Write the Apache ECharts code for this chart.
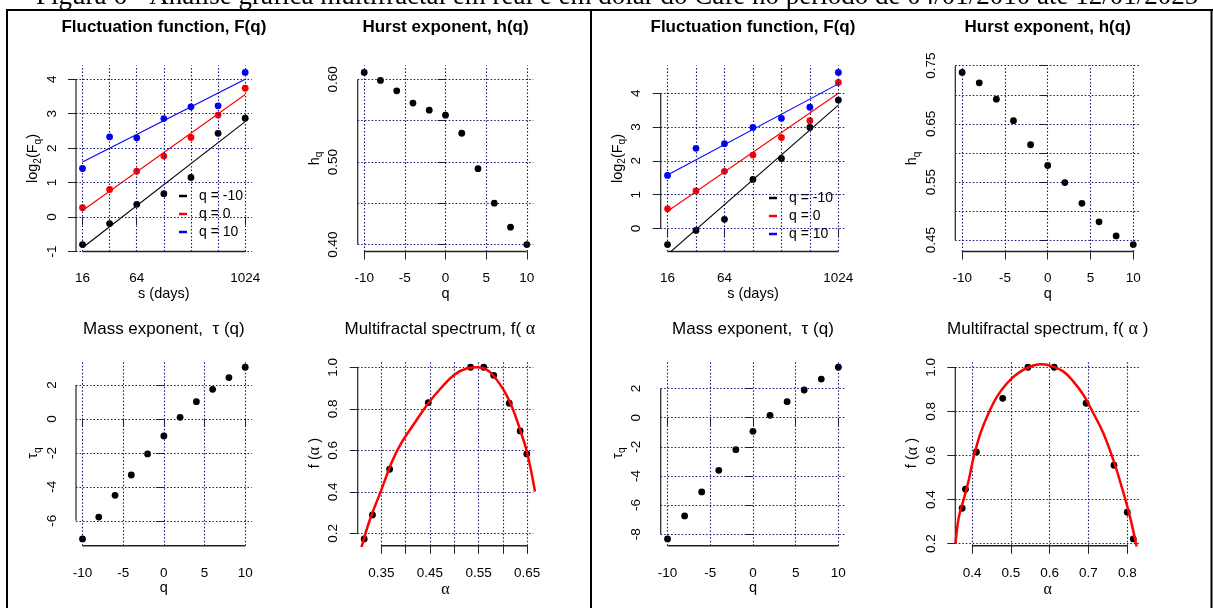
<!DOCTYPE html>
<html><head><meta charset="utf-8">
<script src="https://cdn.jsdelivr.net/npm/echarts@6/dist/echarts.min.js"></script>
<style>html,body{margin:0;padding:0;background:#fff}#c{width:1213px;height:608px}</style>
</head><body><div id="c"></div>
<script>
// ---------------- DATA ----------------
const headerText = 'Figura 6 - Análise gráfica multifractal em real e em dólar do Café no período de 04/01/2010 até 12/01/2025';
const scales = [16, 32, 64, 128, 256, 512, 1024];
const qValues = [-10, -8, -6, -4, -2, 0, 2, 4, 6, 8, 10];
const legendNames = ['q = -10', 'q = 0', 'q = 10'];
const fitScaleEnds = [16, 1024];

// Real (left block)
const realLogFqNeg10 = [-0.80, -0.19, 0.37, 0.68, 1.15, 2.43, 2.87];
const realLogFq0     = [0.27, 0.80, 1.33, 1.77, 2.31, 2.96, 3.74];
const realLogFq10    = [1.41, 2.33, 2.30, 2.86, 3.20, 3.23, 4.20];
const realFitNeg10 = [-0.89, 2.77];
const realFit0     = [0.19, 3.56];
const realFit10    = [1.60, 4.00];
const realHq   = [0.6085, 0.5988, 0.5862, 0.5713, 0.5628, 0.5567, 0.5348, 0.4919, 0.4502, 0.4211, 0.4000];
const realTauq = [-7.07, -5.78, -4.50, -3.30, -2.06, -1.00, 0.10, 1.02, 1.75, 2.44, 3.05];
const realAlpha  = [0.3147, 0.3317, 0.3670, 0.4465, 0.5335, 0.5606, 0.5810, 0.6130, 0.6354, 0.6491];
const realFalpha = [0.1727, 0.2884, 0.5084, 0.8297, 1.0, 1.0, 0.9614, 0.8265, 0.6932, 0.5823];
const realCurveAlpha = [0.3092, 0.3262, 0.3500, 0.3704, 0.3908, 0.4180, 0.4465, 0.4723, 0.4995, 0.5267, 0.5471, 0.5641, 0.5810, 0.6014, 0.6185, 0.6354, 0.6500, 0.6660];
const realCurveF     = [0.1325, 0.264, 0.409, 0.537, 0.634, 0.730, 0.827, 0.899, 0.963, 0.995, 1.000, 0.992, 0.958, 0.891, 0.810, 0.698, 0.586, 0.401];

// Dolar (right block)
const dolarLogFqNeg10 = [-0.48, -0.06, 0.27, 1.45, 2.07, 2.99, 3.80];
const dolarLogFq0     = [0.58, 1.11, 1.69, 2.17, 2.69, 3.19, 4.32];
const dolarLogFq10    = [1.57, 2.37, 2.51, 2.99, 3.26, 3.59, 4.62];
const dolarFitNeg10 = [-0.77, 3.65];
const dolarFit0     = [0.51, 4.00];
const dolarFit10    = [1.58, 4.28];
const dolarHq   = [0.7385, 0.7206, 0.6924, 0.6555, 0.6141, 0.5784, 0.5490, 0.5133, 0.4816, 0.4574, 0.4424];
const dolarTauq = [-8.33, -6.75, -5.10, -3.62, -2.20, -0.94, 0.16, 1.10, 1.90, 2.65, 3.46];
const dolarAlpha  = [0.3743, 0.3829, 0.4111, 0.4788, 0.5439, 0.6116, 0.6938, 0.7657, 0.8000, 0.8154];
const dolarFalpha = [0.3603, 0.4465, 0.6159, 0.8593, 1.0, 1.0, 0.8367, 0.5554, 0.3422, 0.2212];
const dolarCurveAlpha = [0.3572, 0.3657, 0.3786, 0.3914, 0.4043, 0.4214, 0.4403, 0.4642, 0.4899, 0.5156, 0.5456, 0.5756, 0.6013, 0.6355, 0.6612, 0.6869, 0.7126, 0.7383, 0.7640, 0.7854, 0.8069, 0.8240];
const dolarCurveF     = [0.200, 0.3195, 0.4027, 0.4888, 0.5947, 0.7005, 0.7837, 0.8669, 0.9274, 0.9698, 1.000, 1.0136, 1.0076, 0.9803, 0.935, 0.8745, 0.7913, 0.7005, 0.5796, 0.4586, 0.3225, 0.1864];

// Tick values / labels
const fluctXTicks = [16, 64, 1024];
const realFluctYTicks = [-1, 0, 1, 2, 3, 4];
const dolarFluctYTicks = [0, 1, 2, 3, 4];
const qTicks = [-10, -5, 0, 5, 10];
const realHqTicks = [0.40, 0.45, 0.50, 0.55, 0.60];
const realHqLabels = [0.40, 0.50, 0.60];
const dolarHqTicks = [0.45, 0.50, 0.55, 0.60, 0.65, 0.70, 0.75];
const dolarHqLabels = [0.45, 0.55, 0.65, 0.75];
const realTauTicks = [-6, -4, -2, 0, 2];
const dolarTauTicks = [-8, -6, -4, -2, 0, 2];
const realAlphaTicks = [0.35, 0.40, 0.45, 0.50, 0.55, 0.60, 0.65];
const realAlphaLabels = [0.35, 0.45, 0.55, 0.65];
const dolarAlphaTicks = [0.4, 0.5, 0.6, 0.7, 0.8];
const fTicks = [0.2, 0.4, 0.6, 0.8, 1.0];

// ---------------- STYLE / LAYOUT ----------------
const FONT = "'Liberation Sans', Arial, Helvetica, sans-serif";
const SERIF = "'Liberation Serif', 'Times New Roman', serif";
const AX = '#222';
const GRIDC = '#14147a';
const TOP = [65.5, 186];
const BOT = [360.4, 185.4];
const COLL = [[76, 175.7], [357.7, 175.6], [660.7, 184.5], [955.3, 184.8]];

function pad(arr) {
  const lo = Math.min(...arr), hi = Math.max(...arr), d = (hi - lo) * 0.04;
  return [lo - d, hi + d];
}
function logPad(arr) {
  const e = pad(arr.map(v => Math.log2(v)));
  return [Math.pow(2, e[0]), Math.pow(2, e[1])];
}
const f0 = v => String(v);
const f1 = v => Number(v).toFixed(1);
const f2 = v => Number(v).toFixed(2);

const nameRich = {
  n: { fontSize: 14.5, fontFamily: FONT, color: '#000', lineHeight: 20 },
  s: { fontSize: 10, fontFamily: FONT, color: '#000', lineHeight: 10, verticalAlign: 'bottom' },
  g: { fontSize: 16, fontFamily: SERIF, color: '#000', lineHeight: 20 }
};
const NAME_LOGF = '{n|log}{s|2}{n|(F}{s|q}{n|)}';
const NAME_H = '{n|h}{s|q}';
const NAME_TAU = '{n|τ}{s|q}';
const NAME_F = '{n|f (}{g|α}{n| )}';
const NAME_A = '{g|α}';

const grids = [], xAxes = [], yAxes = [], series = [];

function panel(i, box, o) {
  grids.push({ left: box[0], top: box[1], width: box[2], height: box[3], containLabel: false, outerBoundsMode: 'none' });
  xAxes.push({
    gridIndex: i, type: o.xType || 'value', logBase: 2, min: o.xExt[0], max: o.xExt[1],
    axisLine: { show: false }, splitLine: { show: false },
    axisTick: { show: true, length: 8, customValues: o.xTicks, lineStyle: { color: AX, width: 1 } },
    axisLabel: { customValues: o.xLabels, formatter: o.xFmt, margin: 20, fontSize: 13.5, color: '#000', fontFamily: FONT },
    name: o.xName, nameLocation: 'middle', nameGap: 34,
    nameTextStyle: { fontSize: 14.5, color: '#000', fontFamily: FONT, rich: nameRich }
  });
  yAxes.push({
    gridIndex: i, type: 'value', min: o.yExt[0], max: o.yExt[1],
    axisLine: { show: false }, splitLine: { show: false },
    axisTick: { show: true, length: 8, customValues: o.yTicks, lineStyle: { color: AX, width: 1 } },
    axisLabel: { customValues: o.yLabels, formatter: o.yFmt, rotate: 90, margin: 17, fontSize: 13.5, color: '#000', fontFamily: FONT },
    name: o.yName, nameLocation: 'middle', nameRotate: 90, nameGap: 33,
    nameTextStyle: { fontSize: 14.5, color: '#000', fontFamily: FONT, rich: nameRich }
  });
  const xt = o.xTicks, yt = o.yTicks;
  // R-style axis lines (from first to last tick) + dotted grid
  series.push({
    type: 'line', xAxisIndex: i, yAxisIndex: i, silent: true, clip: false, symbol: 'none', z: 2,
    data: [[xt[0], o.yExt[0]], [xt[xt.length - 1], o.yExt[0]]],
    lineStyle: { color: AX, width: 1.4 },
    markLine: {
      silent: true, symbol: ['none', 'none'], label: { show: false }, animation: false,
      lineStyle: { type: [1.5, 2], color: GRIDC, width: 1.1, opacity: 1 },
      emphasis: { disabled: true },
      data: o.xGrid.map(v => ({ xAxis: v })).concat(o.yGrid.map(v => ({ yAxis: v })))
    }
  });
  series.push({
    type: 'line', xAxisIndex: i, yAxisIndex: i, silent: true, clip: false, symbol: 'none', z: 2,
    data: [[o.xExt[0], yt[0]], [o.xExt[0], yt[yt.length - 1]]],
    lineStyle: { color: AX, width: 1.2 }
  });
}
function pts(i, xs, ys, color) {
  series.push({ type: 'scatter', xAxisIndex: i, yAxisIndex: i, silent: true, z: 3,
    data: xs.map((x, k) => [x, ys[k]]), symbol: 'circle', symbolSize: 6.8,
    itemStyle: { color, opacity: 1 }, emphasis: { disabled: true } });
}
function fit(i, name, ends, color) {
  series.push({ type: 'line', name, xAxisIndex: i, yAxisIndex: i, silent: true, z: 4, color,
    data: fitScaleEnds.map((s, k) => [s, ends[k]]), symbol: 'none', itemStyle: { color },
    lineStyle: { color, width: 1.1 } });
}
function curve(i, xs, ys) {
  series.push({ type: 'line', xAxisIndex: i, yAxisIndex: i, silent: true, z: 5, smooth: 0.4,
    data: xs.map((x, k) => [x, ys[k]]), symbol: 'none', lineStyle: { color: '#ff0000', width: 2.5 } });
}

// Panel 0: real fluctuation
panel(0, [COLL[0][0], TOP[0], COLL[0][1], TOP[1]], {
  xType: 'log', xExt: logPad(scales), yExt: pad(realLogFqNeg10.concat(realLogFq0, realLogFq10)),
  xTicks: fluctXTicks, xLabels: fluctXTicks, xGrid: scales, yTicks: realFluctYTicks, yLabels: realFluctYTicks, yGrid: realFluctYTicks,
  xFmt: f0, yFmt: f0, xName: 's (days)', yName: NAME_LOGF });
pts(0, scales, realLogFqNeg10, '#000'); pts(0, scales, realLogFq0, '#ff0000'); pts(0, scales, realLogFq10, '#0000ff');
fit(0, legendNames[0], realFitNeg10, '#000'); fit(0, legendNames[1], realFit0, '#ff0000'); fit(0, legendNames[2], realFit10, '#0000ff');

// Panel 1: real hurst
panel(1, [COLL[1][0], TOP[0], COLL[1][1], TOP[1]], {
  xExt: pad(qValues), yExt: pad(realHq),
  xTicks: qTicks, xLabels: qTicks, xGrid: qTicks, yTicks: realHqTicks, yLabels: realHqLabels, yGrid: realHqTicks,
  xFmt: f0, yFmt: f2, xName: 'q', yName: NAME_H });
pts(1, qValues, realHq, '#000');

// Panel 2: dolar fluctuation
panel(2, [COLL[2][0], TOP[0], COLL[2][1], TOP[1]], {
  xType: 'log', xExt: logPad(scales), yExt: pad(dolarLogFqNeg10.concat(dolarLogFq0, dolarLogFq10)),
  xTicks: fluctXTicks, xLabels: fluctXTicks, xGrid: scales, yTicks: dolarFluctYTicks, yLabels: dolarFluctYTicks, yGrid: dolarFluctYTicks,
  xFmt: f0, yFmt: f0, xName: 's (days)', yName: NAME_LOGF });
pts(2, scales, dolarLogFqNeg10, '#000'); pts(2, scales, dolarLogFq0, '#ff0000'); pts(2, scales, dolarLogFq10, '#0000ff');
fit(2, legendNames[0], dolarFitNeg10, '#000'); fit(2, legendNames[1], dolarFit0, '#ff0000'); fit(2, legendNames[2], dolarFit10, '#0000ff');

// Panel 3: dolar hurst
panel(3, [COLL[3][0], TOP[0], COLL[3][1], TOP[1]], {
  xExt: pad(qValues), yExt: pad(dolarHq),
  xTicks: qTicks, xLabels: qTicks, xGrid: qTicks, yTicks: dolarHqTicks, yLabels: dolarHqLabels, yGrid: dolarHqTicks,
  xFmt: f0, yFmt: f2, xName: 'q', yName: NAME_H });
pts(3, qValues, dolarHq, '#000');

// Panel 4: real mass exponent
panel(4, [COLL[0][0], BOT[0], COLL[0][1], BOT[1]], {
  xExt: pad(qValues), yExt: pad(realTauq),
  xTicks: qTicks, xLabels: qTicks, xGrid: qTicks, yTicks: realTauTicks, yLabels: realTauTicks, yGrid: realTauTicks,
  xFmt: f0, yFmt: f0, xName: 'q', yName: NAME_TAU });
pts(4, qValues, realTauq, '#000');

// Panel 5: real spectrum
panel(5, [COLL[1][0], BOT[0], COLL[1][1], BOT[1]], {
  xExt: pad(realAlpha), yExt: pad(realFalpha),
  xTicks: realAlphaTicks, xLabels: realAlphaLabels, xGrid: realAlphaTicks, yTicks: fTicks, yLabels: fTicks, yGrid: fTicks,
  xFmt: f2, yFmt: f1, xName: NAME_A, yName: NAME_F });
pts(5, realAlpha, realFalpha, '#000');
curve(5, realCurveAlpha, realCurveF);

// Panel 6: dolar mass exponent
panel(6, [COLL[2][0], BOT[0], COLL[2][1], BOT[1]], {
  xExt: pad(qValues), yExt: pad(dolarTauq),
  xTicks: qTicks, xLabels: qTicks, xGrid: qTicks, yTicks: dolarTauTicks, yLabels: dolarTauTicks, yGrid: dolarTauTicks,
  xFmt: f0, yFmt: f0, xName: 'q', yName: NAME_TAU });
pts(6, qValues, dolarTauq, '#000');

// Panel 7: dolar spectrum
panel(7, [COLL[3][0], BOT[0], COLL[3][1], BOT[1]], {
  xExt: pad(dolarAlpha), yExt: pad(dolarFalpha),
  xTicks: dolarAlphaTicks, xLabels: dolarAlphaTicks, xGrid: dolarAlphaTicks, yTicks: fTicks, yLabels: fTicks, yGrid: fTicks,
  xFmt: f1, yFmt: f1, xName: NAME_A, yName: NAME_F });
pts(7, dolarAlpha, dolarFalpha, '#000');
curve(7, dolarCurveAlpha, dolarCurveF);

// ---------------- TITLES & FRAME ----------------
const titleRich = {
  t: { fontSize: 17, fontFamily: FONT, color: '#000' },
  g: { fontSize: 18, fontFamily: SERIF, color: '#000' }
};
function ctr(c) { return c[0] + c[1] / 2; }
const graphics = [
  { type: 'text', x: 36, y: -3, silent: true, style: { text: headerText, font: "27px " + SERIF, fill: '#000', textAlign: 'left', textVerticalAlign: 'middle' } },
  { type: 'text', x: ctr(COLL[0]), y: 27.5, silent: true, style: { text: 'Fluctuation function, F(q)', font: "bold 17px " + FONT, fill: '#000', textAlign: 'center', textVerticalAlign: 'middle' } },
  { type: 'text', x: ctr(COLL[1]), y: 27.5, silent: true, style: { text: 'Hurst exponent, h(q)', font: "bold 17px " + FONT, fill: '#000', textAlign: 'center', textVerticalAlign: 'middle' } },
  { type: 'text', x: ctr(COLL[2]), y: 27.5, silent: true, style: { text: 'Fluctuation function, F(q)', font: "bold 17px " + FONT, fill: '#000', textAlign: 'center', textVerticalAlign: 'middle' } },
  { type: 'text', x: ctr(COLL[3]), y: 27.5, silent: true, style: { text: 'Hurst exponent, h(q)', font: "bold 17px " + FONT, fill: '#000', textAlign: 'center', textVerticalAlign: 'middle' } },
  { type: 'text', x: ctr(COLL[0]), y: 329.3, silent: true, style: { text: 'Mass exponent,  τ (q)', font: "17px " + FONT, fill: '#000', textAlign: 'center', textVerticalAlign: 'middle' } },
  { type: 'text', x: ctr(COLL[2]), y: 329.3, silent: true, style: { text: 'Mass exponent,  τ (q)', font: "17px " + FONT, fill: '#000', textAlign: 'center', textVerticalAlign: 'middle' } },
  { type: 'text', x: 344.5, y: 329.3, silent: true, style: { text: '{t|Multifractal spectrum, f( }{g|α}', rich: titleRich, textAlign: 'left', textVerticalAlign: 'middle' } },
  { type: 'text', x: ctr(COLL[3]), y: 329.3, silent: true, style: { text: '{t|Multifractal spectrum, f( }{g|α}{t| )}', rich: titleRich, textAlign: 'center', textVerticalAlign: 'middle' } },
  { type: 'line', silent: true, shape: { x1: 6, y1: 10, x2: 1213, y2: 10 }, style: { stroke: '#000', lineWidth: 2 } },
  { type: 'line', silent: true, shape: { x1: 7, y1: 9, x2: 7, y2: 608 }, style: { stroke: '#000', lineWidth: 2 } },
  { type: 'line', silent: true, shape: { x1: 591, y1: 9, x2: 591, y2: 608 }, style: { stroke: '#000', lineWidth: 2 } },
  { type: 'line', silent: true, shape: { x1: 1211.5, y1: 9, x2: 1211.5, y2: 608 }, style: { stroke: '#000', lineWidth: 2 } }
];

function legendAt(left, top) {
  return { left, top, orient: 'vertical', padding: 0, itemGap: 4, itemWidth: 8, itemHeight: 2.5, icon: 'rect',
    selectedMode: false, data: legendNames,
    textStyle: { fontSize: 14, color: '#000', fontFamily: FONT, padding: [0, 0, 0, 7] } };
}

const chart = echarts.init(document.getElementById('c'), null, { renderer: 'canvas' });
chart.setOption({
  animation: false,
  backgroundColor: '#fff',
  textStyle: { fontFamily: FONT, color: '#000' },
  grid: grids, xAxis: xAxes, yAxis: yAxes, series,
  legend: [legendAt(179, 189), legendAt(769, 191)],
  graphic: graphics
});
</script></body></html>
